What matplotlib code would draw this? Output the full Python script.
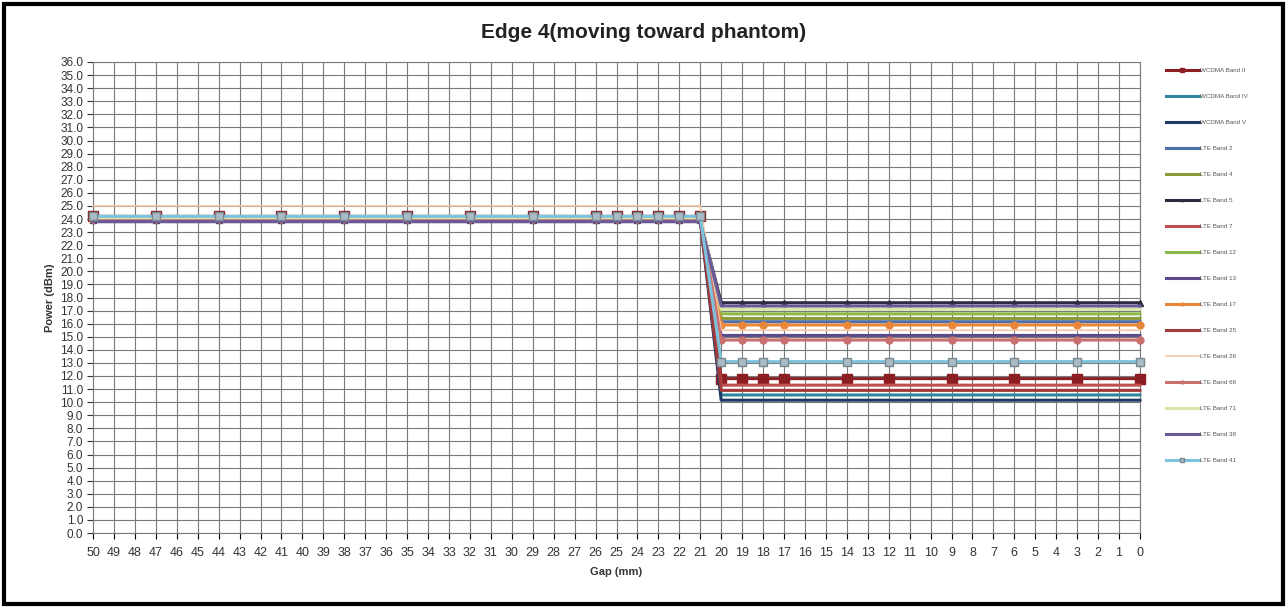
import matplotlib
matplotlib.use("Agg")
import matplotlib.pyplot as plt
from matplotlib.patches import Rectangle
from matplotlib.ticker import FormatStrFormatter

plt.rcParams['font.family'] = ['Liberation Sans', 'DejaVu Sans']

title = "Edge 4(moving toward phantom)"
x_label = "Gap (mm)"
y_label = "Power (dBm)"

gap_ticks = list(range(50, -1, -1))
gap = [50, 47, 44, 41, 38, 35, 32, 29, 26, 25, 24, 23, 22, 21, 20, 19, 18, 17, 14, 12, 9, 6, 3, 0]

series_names = ["WCDMA Band II", "WCDMA Band IV", "WCDMA Band V", "LTE Band 2", "LTE Band 4",
                "LTE Band 5", "LTE Band 7", "LTE Band 12", "LTE Band 13", "LTE Band 17",
                "LTE Band 25", "LTE Band 26", "LTE Band 66", "LTE Band 71", "LTE Band 38",
                "LTE Band 41"]

wcdma_b2  = [24.2, 24.2, 24.2, 24.2, 24.2, 24.2, 24.2, 24.2, 24.2, 24.2, 24.2, 24.2, 24.2, 24.2, 11.8, 11.8, 11.8, 11.8, 11.8, 11.8, 11.8, 11.8, 11.8, 11.8]
wcdma_b4  = [24.1, 24.1, 24.1, 24.1, 24.1, 24.1, 24.1, 24.1, 24.1, 24.1, 24.1, 24.1, 24.1, 24.1, 10.55, 10.55, 10.55, 10.55, 10.55, 10.55, 10.55, 10.55, 10.55, 10.55]
wcdma_b5  = [23.9, 23.9, 23.9, 23.9, 23.9, 23.9, 23.9, 23.9, 23.9, 23.9, 23.9, 23.9, 23.9, 23.9, 10.15, 10.15, 10.15, 10.15, 10.15, 10.15, 10.15, 10.15, 10.15, 10.15]
lte_b2    = [24.0, 24.0, 24.0, 24.0, 24.0, 24.0, 24.0, 24.0, 24.0, 24.0, 24.0, 24.0, 24.0, 24.0, 16.15, 16.15, 16.15, 16.15, 16.15, 16.15, 16.15, 16.15, 16.15, 16.15]
lte_b4    = [24.0, 24.0, 24.0, 24.0, 24.0, 24.0, 24.0, 24.0, 24.0, 24.0, 24.0, 24.0, 24.0, 24.0, 16.4, 16.4, 16.4, 16.4, 16.4, 16.4, 16.4, 16.4, 16.4, 16.4]
lte_b5    = [23.9, 23.9, 23.9, 23.9, 23.9, 23.9, 23.9, 23.9, 23.9, 23.9, 23.9, 23.9, 23.9, 23.9, 17.6, 17.6, 17.6, 17.6, 17.6, 17.6, 17.6, 17.6, 17.6, 17.6]
lte_b7    = [24.1, 24.1, 24.1, 24.1, 24.1, 24.1, 24.1, 24.1, 24.1, 24.1, 24.1, 24.1, 24.1, 24.1, 11.3, 11.3, 11.3, 11.3, 11.3, 11.3, 11.3, 11.3, 11.3, 11.3]
lte_b12   = [24.0, 24.0, 24.0, 24.0, 24.0, 24.0, 24.0, 24.0, 24.0, 24.0, 24.0, 24.0, 24.0, 24.0, 16.75, 16.75, 16.75, 16.75, 16.75, 16.75, 16.75, 16.75, 16.75, 16.75]
lte_b13   = [23.8, 23.8, 23.8, 23.8, 23.8, 23.8, 23.8, 23.8, 23.8, 23.8, 23.8, 23.8, 23.8, 23.8, 15.1, 15.1, 15.1, 15.1, 15.1, 15.1, 15.1, 15.1, 15.1, 15.1]
lte_b17   = [24.0, 24.0, 24.0, 24.0, 24.0, 24.0, 24.0, 24.0, 24.0, 24.0, 24.0, 24.0, 24.0, 24.0, 15.9, 15.9, 15.9, 15.9, 15.9, 15.9, 15.9, 15.9, 15.9, 15.9]
lte_b25   = [23.9, 23.9, 23.9, 23.9, 23.9, 23.9, 23.9, 23.9, 23.9, 23.9, 23.9, 23.9, 23.9, 23.9, 10.9, 10.9, 10.9, 10.9, 10.9, 10.9, 10.9, 10.9, 10.9, 10.9]
lte_b26   = [25.0, 25.0, 25.0, 25.0, 25.0, 25.0, 25.0, 25.0, 25.0, 25.0, 25.0, 25.0, 25.0, 25.0, 15.5, 15.5, 15.5, 15.5, 15.5, 15.5, 15.5, 15.5, 15.5, 15.5]
lte_b66   = [24.0, 24.0, 24.0, 24.0, 24.0, 24.0, 24.0, 24.0, 24.0, 24.0, 24.0, 24.0, 24.0, 24.0, 14.75, 14.75, 14.75, 14.75, 14.75, 14.75, 14.75, 14.75, 14.75, 14.75]
lte_b71   = [24.1, 24.1, 24.1, 24.1, 24.1, 24.1, 24.1, 24.1, 24.1, 24.1, 24.1, 24.1, 24.1, 24.1, 17.1, 17.1, 17.1, 17.1, 17.1, 17.1, 17.1, 17.1, 17.1, 17.1]
lte_b38   = [23.8, 23.8, 23.8, 23.8, 23.8, 23.8, 23.8, 23.8, 23.8, 23.8, 23.8, 23.8, 23.8, 23.8, 17.35, 17.35, 17.35, 17.35, 17.35, 17.35, 17.35, 17.35, 17.35, 17.35]
lte_b41   = [24.2, 24.2, 24.2, 24.2, 24.2, 24.2, 24.2, 24.2, 24.2, 24.2, 24.2, 24.2, 24.2, 24.2, 13.1, 13.1, 13.1, 13.1, 13.1, 13.1, 13.1, 13.1, 13.1, 13.1]

series_values = [wcdma_b2, wcdma_b4, wcdma_b5, lte_b2, lte_b4, lte_b5, lte_b7, lte_b12, lte_b13,
                 lte_b17, lte_b25, lte_b26, lte_b66, lte_b71, lte_b38, lte_b41]

colors = ["#8B1E22", "#31859C", "#1F3A68", "#4F6FA8", "#8A9A3A", "#2E2A40", "#C0504D", "#8DB84A",
          "#5A4A8A", "#E8873A", "#A33A3A", "#F5C8A8", "#C87070", "#D9E6A8", "#6A5A9A", "#7EC3DE"]
markers = ["s", None, None, None, None, "^", None, None, None, "o", None, None, "o", None, None, "s"]
msizes = [6.5, 0, 0, 0, 0, 4, 0, 0, 0, 5, 0, 0, 5, 0, 0, 6]
lws = [2.2] * 16
lws[11] = 1.2

fig = plt.figure(figsize=(12.87, 6.08), dpi=100)
ax = fig.add_axes([93/1287, 75/608, (1140-93)/1287, (533-62)/608])

for i in range(len(series_names)):
    mk = markers[i]
    kw = {}
    if mk:
        mface = colors[i]
        medge = colors[i]
        if i == 15:
            mface = "#A9BCC6"
            medge = "#7A8890"
        kw = dict(marker=mk, markersize=msizes[i], markerfacecolor=mface, markeredgecolor=medge)
    ax.plot(gap, series_values[i], color=colors[i], lw=lws[i], label=series_names[i],
            clip_on=False, zorder=3 + i * 0.01, **kw)

ax.set_xlim(50, 0)
ax.set_ylim(0, 36)
ax.set_xticks(gap_ticks)
ax.set_xticklabels([str(g) for g in gap_ticks], fontsize=9, color="#333333")
ax.set_yticks([i for i in range(0, 37)])
ax.yaxis.set_major_formatter(FormatStrFormatter("%.1f"))
ax.tick_params(axis='y', labelsize=8.5, colors="#333333", length=4, width=0.8, pad=3)
ax.tick_params(axis='x', length=4, width=0.8, pad=6)
ax.grid(True, color="#7a7a7a", lw=0.8)
ax.set_axisbelow(True)
for s in ax.spines.values():
    s.set_color("#7a7a7a")
    s.set_linewidth(0.8)

ax.set_xlabel(x_label, fontsize=8, fontweight="bold", color="#333333", labelpad=6)
ax.set_ylabel(y_label, fontsize=8, fontweight="bold", color="#333333", labelpad=4)
fig.text(644/1287, 1 - 33/608, title, ha="center", va="center", fontsize=15, fontweight="bold", color="#222222")

leg = fig.legend(loc="upper left", bbox_to_anchor=(1163/1287, 1 - 65/608), fontsize=4.5,
                 frameon=False, labelspacing=3.3, handlelength=5.3, handletextpad=0.2,
                 borderaxespad=0, markerscale=0.4)
for t in leg.get_texts():
    t.set_color("#555555")

fig.patches.append(Rectangle((4/1287, 4/608), 1 - 8/1287, 1 - 8/608, transform=fig.transFigure,
                             fill=False, edgecolor="black", lw=3))

fig.savefig("out.png", dpi=100)
